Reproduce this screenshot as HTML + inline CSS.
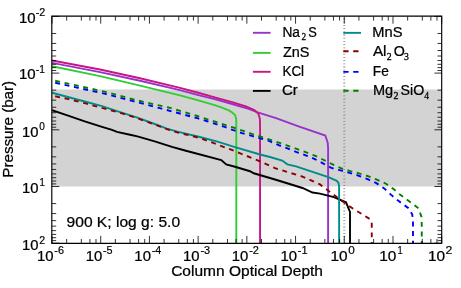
<!DOCTYPE html>
<html><head><meta charset="utf-8"><style>html,body{margin:0;padding:0;background:#fff}svg{display:block;will-change:transform}text{font-family:"Liberation Sans",sans-serif;fill:#000;stroke:#000;stroke-width:0.24px}.u{stroke-width:0.18px}.s{font-family:"Liberation Serif",serif;stroke-width:0.28px}</style></head><body>
<svg width="461" height="288" viewBox="0 0 461 288">
<rect width="461" height="288" fill="#fff"/>
<defs><clipPath id="c"><rect x="52.0" y="16.4" width="389.7" height="226.79999999999998"/></clipPath></defs>
<rect x="52.0" y="89.5" width="389.7" height="97.00" fill="#d3d3d3"/>
<g clip-path="url(#c)" fill="none" stroke-linejoin="miter" stroke-miterlimit="3">
<line x1="344.27" y1="16.4" x2="344.27" y2="243.2" stroke="#858585" stroke-width="2.0" stroke-dasharray="0.78 2.42" stroke-dashoffset="1.0"/>
<path d="M52.00,62.90 L100.00,72.15 L140.00,80.80 L180.00,90.10 L197.40,94.80 L214.70,99.10 L232.10,104.00 L249.40,109.20 L256.90,112.15 L276.00,118.20 L298.60,126.40 L325.30,135.50 L327.70,142.60 L328.10,148.00 L328.10,243.00" stroke="#9932cc" stroke-width="1.9"/>
<path d="M52.00,66.30 L100.00,76.10 L140.00,85.70 L180.00,95.30 L197.40,100.10 L214.70,105.10 L222.00,107.70 L229.30,110.60 L232.50,112.80 L235.20,115.20 L236.10,118.60 L236.30,122.00 L236.30,243.00" stroke="#32cd32" stroke-width="1.9"/>
<path d="M52.00,60.50 L100.00,69.50 L140.00,78.20 L180.00,87.80 L197.40,92.50 L214.70,97.40 L232.10,102.20 L246.00,106.40 L254.30,110.00 L258.30,113.60 L259.80,118.30 L260.05,123.00 L260.05,243.00" stroke="#c71585" stroke-width="1.9"/>
<path d="M52.00,110.20 L67.40,115.40 L84.70,121.30 L102.00,126.80 L112.00,129.90 L117.00,131.90 L130.00,134.80 L137.40,136.30 L154.70,141.30 L172.00,146.90 L185.00,150.50 L221.25,160.00 L226.25,164.50 L235.00,166.75 L250.00,171.25 L253.75,173.25 L275.00,179.50 L302.50,188.00 L312.50,192.50 L320.00,193.60 L333.90,197.10 L346.00,202.30 L350.00,211.90 L350.00,243.00" stroke="#000000" stroke-width="1.9"/>
<path d="M52.00,92.70 L84.70,101.50 L102.00,106.20 L120.00,112.15 L137.40,117.70 L154.70,124.00 L166.90,128.60 L177.30,131.60 L199.90,137.00 L217.50,141.60 L235.00,147.20 L260.00,154.50 L270.00,157.00 L282.20,160.50 L287.40,164.30 L296.00,166.40 L313.40,172.10 L329.00,177.30 L336.80,180.80 L338.50,183.00 L339.10,186.00 L339.15,243.00" stroke="#008b8b" stroke-width="1.9"/>
<path d="M55.20,96.30 L67.40,98.90 L84.70,103.20 L103.80,108.40 L122.90,113.60 L137.40,118.30 L154.70,124.60 L166.90,129.20 L177.30,132.40 L199.90,138.00 L217.50,144.50 L235.00,151.25 L260.00,161.25 L275.00,168.20 L302.50,176.60 L320.00,184.40 L342.50,201.25 L348.50,205.75 L369.75,219.00 L371.75,222.00 L371.75,243.00" stroke="#8b0000" stroke-width="1.9" stroke-dasharray="4.9 4.675"/>
<path d="M55.20,82.80 L104.30,93.60 L132.20,100.90 L160.00,108.20 L197.30,118.20 L206.50,121.00 L224.70,126.90 L233.40,130.20 L242.00,133.20 L251.70,135.90 L261.20,138.50 L269.00,140.90 L278.70,145.20 L287.40,148.30 L296.00,151.80 L305.60,155.30 L314.80,159.10 L323.00,163.40 L330.80,167.60 L335.00,169.30 L340.80,170.40 L349.50,172.80 L359.00,175.80 L367.70,179.20 L376.40,183.20 L384.20,188.40 L391.20,194.90 L398.10,200.60 L408.50,208.25 L412.25,214.50 L413.00,222.00 L413.00,243.00" stroke="#0000ff" stroke-width="1.9" stroke-dasharray="4.9 4.675"/>
<path d="M55.20,80.80 L104.30,91.60 L142.60,101.70 L169.40,107.70 L197.30,116.00 L233.80,127.70 L251.70,133.85 L278.70,142.60 L287.40,145.60 L296.00,148.70 L305.60,152.20 L314.80,155.60 L323.80,160.00 L332.50,164.30 L340.80,168.20 L350.40,171.10 L359.00,173.30 L368.60,176.30 L377.30,179.80 L386.00,183.75 L393.80,189.30 L399.90,194.50 L418.50,208.25 L421.50,217.00 L421.75,225.00 L421.75,243.00" stroke="#008000" stroke-width="1.9" stroke-dasharray="4.9 4.675"/>
</g>
<path d="M52.00,243.2 v-7.3 M52.00,16.4 v7.3 M66.66,243.2 v-4.2 M66.66,16.4 v4.2 M81.33,243.2 v-4.2 M81.33,16.4 v4.2 M89.91,243.2 v-4.2 M89.91,16.4 v4.2 M95.99,243.2 v-4.2 M95.99,16.4 v4.2 M100.71,243.2 v-7.3 M100.71,16.4 v7.3 M115.38,243.2 v-4.2 M115.38,16.4 v4.2 M130.04,243.2 v-4.2 M130.04,16.4 v4.2 M138.62,243.2 v-4.2 M138.62,16.4 v4.2 M144.70,243.2 v-4.2 M144.70,16.4 v4.2 M149.43,243.2 v-7.3 M149.43,16.4 v7.3 M164.09,243.2 v-4.2 M164.09,16.4 v4.2 M178.75,243.2 v-4.2 M178.75,16.4 v4.2 M187.33,243.2 v-4.2 M187.33,16.4 v4.2 M193.42,243.2 v-4.2 M193.42,16.4 v4.2 M198.14,243.2 v-7.3 M198.14,16.4 v7.3 M212.80,243.2 v-4.2 M212.80,16.4 v4.2 M227.47,243.2 v-4.2 M227.47,16.4 v4.2 M236.04,243.2 v-4.2 M236.04,16.4 v4.2 M242.13,243.2 v-4.2 M242.13,16.4 v4.2 M246.85,243.2 v-7.3 M246.85,16.4 v7.3 M261.51,243.2 v-4.2 M261.51,16.4 v4.2 M276.18,243.2 v-4.2 M276.18,16.4 v4.2 M284.76,243.2 v-4.2 M284.76,16.4 v4.2 M290.84,243.2 v-4.2 M290.84,16.4 v4.2 M295.56,243.2 v-7.3 M295.56,16.4 v7.3 M310.23,243.2 v-4.2 M310.23,16.4 v4.2 M324.89,243.2 v-4.2 M324.89,16.4 v4.2 M333.47,243.2 v-4.2 M333.47,16.4 v4.2 M339.55,243.2 v-4.2 M339.55,16.4 v4.2 M344.27,243.2 v-7.3 M344.27,16.4 v7.3 M358.94,243.2 v-4.2 M358.94,16.4 v4.2 M373.60,243.2 v-4.2 M373.60,16.4 v4.2 M382.18,243.2 v-4.2 M382.18,16.4 v4.2 M388.27,243.2 v-4.2 M388.27,16.4 v4.2 M392.99,243.2 v-7.3 M392.99,16.4 v7.3 M407.65,243.2 v-4.2 M407.65,16.4 v4.2 M422.32,243.2 v-4.2 M422.32,16.4 v4.2 M430.89,243.2 v-4.2 M430.89,16.4 v4.2 M436.98,243.2 v-4.2 M436.98,16.4 v4.2 M441.70,243.2 v-7.3 M441.70,16.4 v7.3 M52.0,16.40 h7.3 M441.7,16.40 h-7.3 M52.0,33.47 h4.2 M441.7,33.47 h-4.2 M52.0,43.45 h4.2 M441.7,43.45 h-4.2 M52.0,50.54 h4.2 M441.7,50.54 h-4.2 M52.0,56.03 h4.2 M441.7,56.03 h-4.2 M52.0,60.52 h4.2 M441.7,60.52 h-4.2 M52.0,64.32 h4.2 M441.7,64.32 h-4.2 M52.0,67.61 h4.2 M441.7,67.61 h-4.2 M52.0,70.51 h4.2 M441.7,70.51 h-4.2 M52.0,73.10 h7.3 M441.7,73.10 h-7.3 M52.0,90.17 h4.2 M441.7,90.17 h-4.2 M52.0,100.15 h4.2 M441.7,100.15 h-4.2 M52.0,107.24 h4.2 M441.7,107.24 h-4.2 M52.0,112.73 h4.2 M441.7,112.73 h-4.2 M52.0,117.22 h4.2 M441.7,117.22 h-4.2 M52.0,121.02 h4.2 M441.7,121.02 h-4.2 M52.0,124.31 h4.2 M441.7,124.31 h-4.2 M52.0,127.21 h4.2 M441.7,127.21 h-4.2 M52.0,129.80 h7.3 M441.7,129.80 h-7.3 M52.0,146.87 h4.2 M441.7,146.87 h-4.2 M52.0,156.85 h4.2 M441.7,156.85 h-4.2 M52.0,163.94 h4.2 M441.7,163.94 h-4.2 M52.0,169.43 h4.2 M441.7,169.43 h-4.2 M52.0,173.92 h4.2 M441.7,173.92 h-4.2 M52.0,177.72 h4.2 M441.7,177.72 h-4.2 M52.0,181.01 h4.2 M441.7,181.01 h-4.2 M52.0,183.91 h4.2 M441.7,183.91 h-4.2 M52.0,186.50 h7.3 M441.7,186.50 h-7.3 M52.0,203.57 h4.2 M441.7,203.57 h-4.2 M52.0,213.55 h4.2 M441.7,213.55 h-4.2 M52.0,220.64 h4.2 M441.7,220.64 h-4.2 M52.0,226.13 h4.2 M441.7,226.13 h-4.2 M52.0,230.62 h4.2 M441.7,230.62 h-4.2 M52.0,234.42 h4.2 M441.7,234.42 h-4.2 M52.0,237.71 h4.2 M441.7,237.71 h-4.2 M52.0,240.61 h4.2 M441.7,240.61 h-4.2 M52.0,243.20 h7.3 M441.7,243.20 h-7.3" stroke="#000" stroke-width="0.8" fill="none"/>
<path d="M51.8,16.15 H441.7 V243.35 H51.8 Z" fill="none" stroke="#000" stroke-width="1.15" stroke-linejoin="miter"/>
<text transform="translate(36.95,260.60) scale(1.0496,1)" font-size="14.2">10</text>
<text class="u" transform="translate(54.28,253.70) scale(1.0357,1)" font-size="10.5">-6</text>
<text transform="translate(85.66,260.60) scale(1.0496,1)" font-size="14.2">10</text>
<text class="u" transform="translate(102.99,253.70) scale(1.0357,1)" font-size="10.5">-5</text>
<text transform="translate(134.37,260.60) scale(1.0496,1)" font-size="14.2">10</text>
<text class="u" transform="translate(151.71,253.70) scale(1.0235,1)" font-size="10.5">-4</text>
<text transform="translate(183.08,260.60) scale(1.0496,1)" font-size="14.2">10</text>
<text class="u" transform="translate(200.42,253.70) scale(1.0357,1)" font-size="10.5">-3</text>
<text transform="translate(231.80,260.60) scale(1.0496,1)" font-size="14.2">10</text>
<text class="u" transform="translate(249.13,253.70) scale(1.0482,1)" font-size="10.5">-2</text>
<text transform="translate(280.51,260.60) scale(1.0496,1)" font-size="14.2">10</text>
<text class="u" transform="translate(297.84,253.70) scale(1.0482,1)" font-size="10.5">-1</text>
<text transform="translate(330.48,260.60) scale(1.0851,1)" font-size="14.2">10</text>
<text class="u" transform="translate(348.13,253.70) scale(1.1200,1)" font-size="10.5">0</text>
<text transform="translate(379.19,260.60) scale(1.0851,1)" font-size="14.2">10</text>
<text class="u" transform="translate(397.58,253.70) scale(0.8889,1)" font-size="10.5">1</text>
<text transform="translate(427.91,260.60) scale(1.0851,1)" font-size="14.2">10</text>
<text class="u" transform="translate(445.42,253.70) scale(1.1667,1)" font-size="10.5">2</text>
<text transform="translate(18.94,23.00) scale(1.0567,1)" font-size="14.2">10</text>
<text class="u" transform="translate(35.69,15.60) scale(1.0241,1)" font-size="10.5">-2</text>
<text transform="translate(18.94,79.20) scale(1.0567,1)" font-size="14.2">10</text>
<text class="u" transform="translate(35.81,73.10) scale(0.9759,1)" font-size="10.5">-1</text>
<text transform="translate(22.05,137.10) scale(1.0426,1)" font-size="14.2">10</text>
<text class="u" transform="translate(39.32,130.00) scale(0.9600,1)" font-size="10.5">0</text>
<text transform="translate(22.05,193.10) scale(1.0426,1)" font-size="14.2">10</text>
<text class="u" transform="translate(39.57,185.90) scale(0.9111,1)" font-size="10.5">1</text>
<text transform="translate(22.05,249.80) scale(1.0426,1)" font-size="14.2">10</text>
<text class="u" transform="translate(39.20,243.70) scale(1.0000,1)" font-size="10.5">2</text>
<text transform="translate(171.13,276.00) scale(1.1012,1)" font-size="14.1">Column Optical Depth</text>
<text transform="translate(13.0,177.69) rotate(-90) scale(1.0761,1)" font-size="14.1">Pressure (bar)</text>
<text transform="translate(66.54,227.00) scale(1.0830,1)" font-size="14.4">900 K; log g: 5.0</text>
<line x1="252.9" y1="32.8" x2="270.6" y2="32.8" stroke="#9932cc" stroke-width="1.9"/>
<line x1="252.9" y1="52.9" x2="270.6" y2="52.9" stroke="#32cd32" stroke-width="1.9"/>
<line x1="252.9" y1="71.8" x2="270.6" y2="71.8" stroke="#c71585" stroke-width="1.9"/>
<line x1="252.9" y1="90.9" x2="270.6" y2="90.9" stroke="#000000" stroke-width="1.9"/>
<line x1="343.3" y1="32.85" x2="361.0" y2="32.85" stroke="#008b8b" stroke-width="1.9"/>
<line x1="343.3" y1="51.3" x2="361.0" y2="51.3" stroke="#8b0000" stroke-width="1.9" stroke-dasharray="5.3 4.6"/>
<line x1="343.3" y1="71.9" x2="361.0" y2="71.9" stroke="#0000ff" stroke-width="1.9" stroke-dasharray="5.3 4.6"/>
<line x1="343.3" y1="90.8" x2="361.0" y2="90.8" stroke="#008000" stroke-width="1.9" stroke-dasharray="5.3 4.6"/>
<text transform="translate(282.43,37.00) scale(0.9762,1)" font-size="14.1">Na</text>
<text class="s" transform="translate(301.52,40.00) scale(0.9500,1)" font-size="9.8">2</text>
<text transform="translate(308.36,37.00) scale(0.9136,1)" font-size="14.1">S</text>
<text transform="translate(282.89,57.10) scale(1.0262,1)" font-size="14.1">ZnS</text>
<text transform="translate(282.46,75.60) scale(0.9515,1)" font-size="14.1">KCl</text>
<text transform="translate(281.95,94.90) scale(1.0647,1)" font-size="14.1">Cr</text>
<text transform="translate(372.35,36.60) scale(1.0406,1)" font-size="14.1">MnS</text>
<text transform="translate(372.89,55.60) scale(1.0870,1)" font-size="14.1">Al</text>
<text class="s" transform="translate(386.70,60.00) scale(1.0000,1)" font-size="9.8">2</text>
<text transform="translate(393.79,55.60) scale(1.0104,1)" font-size="14.1">O</text>
<text class="s" transform="translate(403.90,60.00) scale(1.0000,1)" font-size="9.8">3</text>
<text transform="translate(372.83,75.80) scale(0.9726,1)" font-size="14.1">Fe</text>
<text transform="translate(372.96,94.70) scale(1.0343,1)" font-size="14.1">Mg</text>
<text class="s" transform="translate(393.49,99.00) scale(1.0250,1)" font-size="9.8">2</text>
<text transform="translate(400.49,94.70) scale(1.0090,1)" font-size="14.1">SiO</text>
<text class="s" transform="translate(424.30,99.00) scale(0.9778,1)" font-size="9.8">4</text>
</svg></body></html>
